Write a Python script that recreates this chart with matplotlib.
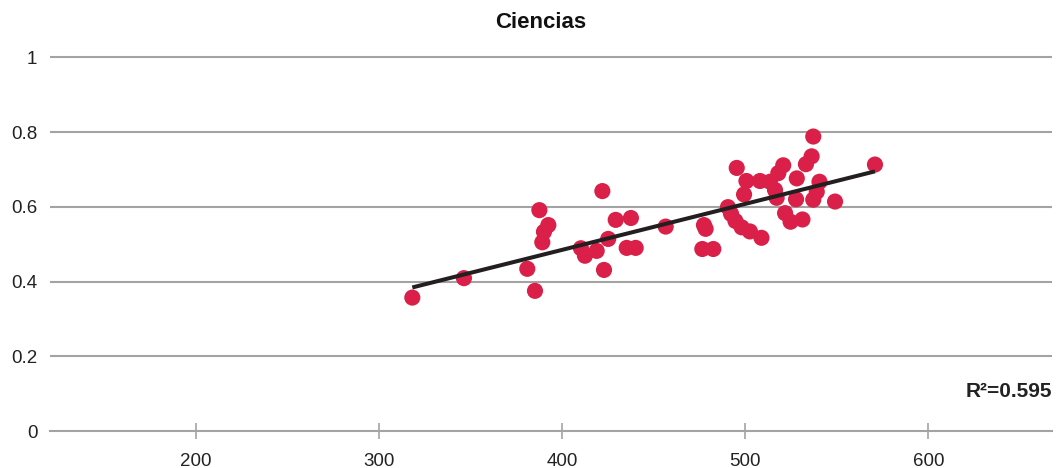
import numpy as np
import matplotlib
matplotlib.use("Agg")
import matplotlib.pyplot as plt

title = "Ciencias"
r2_label = "R²=0.595"
x_ticks = [200, 300, 400, 500, 600]
y_ticks = [0, 0.2, 0.4, 0.6, 0.8, 1]
y_tick_labels = ["0", "0.2", "0.4", "0.6", "0.8", "1"]

score = [318.1, 346.3, 380.9, 385.1, 387.5, 392.4, 390.0, 389.1, 410.2, 412.4,
         418.8, 421.9, 425.1, 422.8, 429.2, 437.5, 435.2, 440.1, 456.5, 477.4,
         478.3, 476.5, 482.5, 495.3, 500.6, 508.0, 499.3, 490.5, 492.2, 494.6,
         498.0, 502.5, 508.8, 520.7, 518.0, 513.5, 516.2, 517.1, 528.1, 527.7,
         521.7, 524.7, 531.2, 537.1, 536.2, 533.1, 540.5, 539.0, 537.1, 549.0,
         570.8]
index = [0.357, 0.409, 0.434, 0.375, 0.591, 0.551, 0.533, 0.505, 0.489, 0.469,
         0.482, 0.642, 0.514, 0.431, 0.565, 0.570, 0.490, 0.490, 0.547, 0.551,
         0.541, 0.487, 0.487, 0.704, 0.669, 0.669, 0.633, 0.599, 0.581, 0.562,
         0.545, 0.534, 0.517, 0.711, 0.690, 0.667, 0.645, 0.624, 0.676, 0.620,
         0.583, 0.560, 0.566, 0.788, 0.735, 0.714, 0.667, 0.640, 0.619, 0.614,
         0.713]

plt.rcParams['font.family'] = ['Liberation Sans', 'DejaVu Sans']

W, H = 1058, 468
fig = plt.figure(figsize=(W / 100, H / 100), dpi=100)
left_px, right_px = 50, 1052
bottom_px = 431
ylim_top = 1.05
unit_px = 373.7
top_px = bottom_px - ylim_top * unit_px
ax = fig.add_axes([left_px / W, (H - bottom_px) / H,
                   (right_px - left_px) / W, (bottom_px - top_px) / H])

grid_col = '#A3A3A3'
for y in y_ticks[1:]:
    ax.axhline(y, color=grid_col, lw=1.5, zorder=0)

xs = np.array(score)
ys = np.array(index)
ax.scatter(xs, ys, s=135, color='#DA1F48', edgecolors='none', zorder=2)

coef = np.polyfit(xs, ys, 1)
xl = np.array([xs.min(), xs.max()])
ax.plot(xl, np.polyval(coef, xl), color='#231F20', lw=2.9, zorder=3,
        solid_capstyle='butt')

ax.set_xlim(120.2, 667.5)
ax.set_ylim(0, ylim_top)
ax.set_xticks(x_ticks)
ax.set_xticklabels([str(v) for v in x_ticks])
ax.set_yticks(y_ticks)
ax.set_yticklabels(y_tick_labels)

for s in ['top', 'right', 'left']:
    ax.spines[s].set_visible(False)
ax.spines['bottom'].set_color(grid_col)
ax.spines['bottom'].set_linewidth(1.5)
ax.tick_params(axis='x', direction='inout', length=11.5, width=1.2,
               color=grid_col, labelsize=13.5, labelcolor='#222222', pad=10)
ax.tick_params(axis='y', length=0, labelsize=13.5, labelcolor='#222222', pad=9)

ax.text(1.0, 0.107, r2_label, transform=ax.get_yaxis_transform(),
        ha='right', va='center', fontsize=15, fontweight='bold', color='#222222')

fig.text(541 / W, 1 - 22 / H, title, ha='center', va='center',
         fontsize=16, fontweight='bold', color='#111111')

fig.savefig('out.png', dpi=100)
